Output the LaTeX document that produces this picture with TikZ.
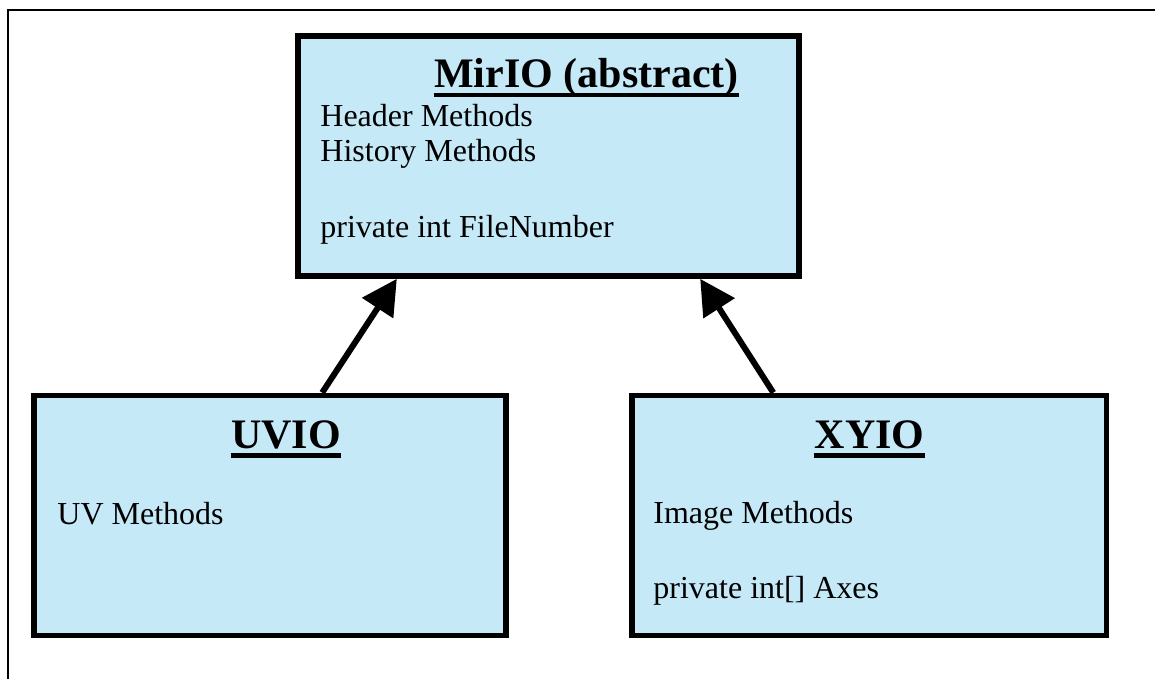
\documentclass[tikz,border=0pt]{standalone}
\usepackage{fontspec}
\setmainfont{Liberation Serif}
\usetikzlibrary{arrows.meta}
\definecolor{classblue}{RGB}{198,233,248}
\tikzstyle{classbox} = [draw, line width=2.85pt, fill=classblue, inner sep=0pt, minimum height=120pt]
\tikzstyle{cname} = [inner sep=0pt, anchor=base, font=\fontsize{21}{25}\selectfont\bfseries]
\tikzstyle{member} = [inner sep=0pt, anchor=base west, font=\fontsize{16}{19}\selectfont]
\tikzstyle{uline} = [line width=2.1pt]
\tikzstyle{inherit} = [line width=3pt, -{Triangle[length=17.5pt,width=18pt]}]

\begin{document}
\begin{tikzpicture}[x=0.5pt, y=-0.5pt]
\useasboundingbox (0,0) rectangle (1155,679);
\draw[line width=1pt] (8,679) -- (8,10) -- (1155,10);

% classes
\node[classbox, minimum width=250.5pt] (mirio) at (548.5,156) {};
\node[classbox, minimum width=236pt] (uvio) at (270,515.5) {};
\node[classbox, minimum width=237.25pt] (xyio) at (869.25,515.5) {};

% MirIO
\node[cname] (mirt) at (586.5,88) {MirIO (abstract)};
\draw[uline] ([yshift=-3.5pt]mirt.base west) -- ([yshift=-3.5pt]mirt.base east);
\node[member] (mhead) at (320,127) {Header Methods};
\node[member] (mhist) at (320,162) {History Methods};
\node[member] (mfile) at (320,237) {private int FileNumber};

% UVIO
\node[cname] (uvt) at (286,448) {UVIO};
\draw[uline] ([yshift=-3.7pt]uvt.base west) -- ([yshift=-3.7pt]uvt.base east);
\node[member] (uvm) at (57,524) {UV Methods};

% XYIO
\node[cname] (xyt) at (869.5,448) {XYIO};
\draw[uline] ([yshift=-3.7pt]xyt.base west) -- ([yshift=-3.7pt]xyt.base east);
\node[member] (xyim) at (653,523) {Image Methods};
\node[member] (xyax) at (653,598) {private int[] Axes};

% inheritance
\draw[inherit] (uvio.67) -- (mirio.219);
\draw[inherit] (xyio.128) -- (mirio.321);

\end{tikzpicture}
\end{document}
